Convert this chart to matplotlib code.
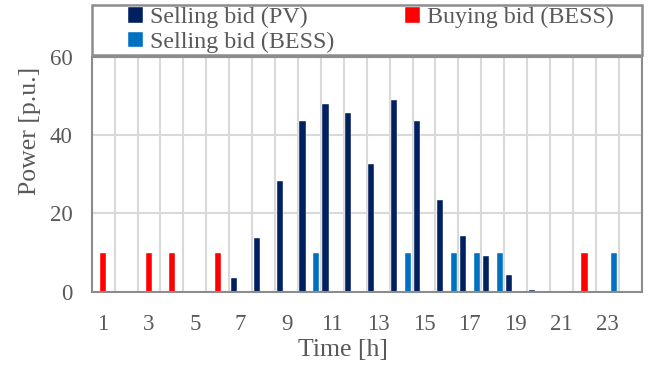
import numpy as np
import matplotlib
matplotlib.use('Agg')
import matplotlib.pyplot as plt
from matplotlib.patches import Rectangle

plt.rcParams['font.family'] = ['Liberation Serif', 'DejaVu Serif']

hours = list(range(1, 25))
pv_sell = [0, 0, 0, 0, 0, 0, 3.4, 13.7, 28.4, 43.6, 48.1, 45.8,
           32.7, 49.0, 43.7, 23.4, 14.3, 9.2, 4.3, 0.5, 0, 0, 0, 0]
bess_buy = [10, 0, 10, 10, 0, 10, 0, 0, 0, 0, 0, 0,
            0, 0, 0, 0, 0, 0, 0, 0, 0, 10, 0, 0]
bess_sell = [0, 0, 0, 0, 0, 0, 0, 0, 0, 10, 0, 0,
             0, 10, 0, 10, 10, 10, 0, 0, 0, 0, 10, 0]
series_names = ['Selling bid (PV)', 'Buying bid (BESS)', 'Selling bid (BESS)']
colors = ['#002060', '#FF0000', '#0070C0']

txt = '#595959'
edge = '#8c8c8c'

fig = plt.figure(figsize=(6.49, 3.69), dpi=100)
ax = fig.add_axes([0.1413, 0.2095, 0.8475, 0.636])

x = np.array(hours)
w = 0.27
bars = []
for k, (vals, name, c) in enumerate(zip([pv_sell, bess_buy, bess_sell], series_names, colors)):
    b = ax.bar(x + (k - 1) * 0.3, vals, width=w, color=c, label=name,
               edgecolor='white', linewidth=0.3, zorder=3)
    bars.append(b)

ax.set_xlim(0.5, 24.5)
ax.set_ylim(0, 60)
ax.set_yticks([0, 20, 40, 60])
ax.set_xticks(hours[::2])
ax.set_xticks(np.arange(0.5, 25, 1), minor=True)
ax.tick_params(axis='both', which='both', length=0, labelsize=16.5, colors=txt)
ax.tick_params(axis='x', pad=16)
ax.tick_params(axis='y', pad=14)
ax.grid(axis='x', which='minor', color='#d9d9d9', linewidth=1.5, zorder=0)
ax.grid(axis='y', which='major', color='#d9d9d9', linewidth=1.5, zorder=0)
for s in ax.spines.values():
    s.set_color(edge)
    s.set_linewidth(1.5)
    s.set_zorder(4)

xl = ax.set_xlabel('Time [h]', fontsize=18.5, color=txt, va='center')
yl = ax.set_ylabel('Power [p.u.]', fontsize=18.5, color=txt, va='center')
ax.xaxis.set_label_coords(0.457, -0.25)
ax.yaxis.set_label_coords(-0.113, 0.685)

# legend box across the top, filled row by row
fig.patches.append(Rectangle((0.1413, 0.851), 0.8475, 0.1355, transform=fig.transFigure,
                             facecolor='white', edgecolor=edge, linewidth=1.8))
order = [0, 2, 1]
leg = fig.legend([bars[i] for i in order], [series_names[i] for i in order],
                 ncol=2, loc='center', bbox_to_anchor=(0.5716, 0.9187),
                 fontsize=17.3, frameon=False,
                 handlelength=0.62, handleheight=0.62, handletextpad=0.28,
                 borderpad=0, labelspacing=0.15, columnspacing=2.95)
for t in leg.get_texts():
    t.set_color(txt)

fig.savefig('out.png', dpi=100)
